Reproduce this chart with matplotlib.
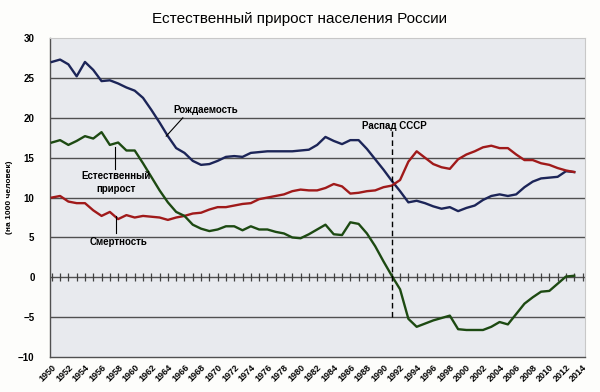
import numpy as np
import matplotlib.pyplot as plt

years = list(range(1950, 2014))
birth = [27.0, 27.3, 26.7, 25.2, 27.0, 26.0, 24.6, 24.7, 24.3, 23.8,
         23.4, 22.5, 21.0, 19.4, 17.7, 16.2, 15.6, 14.6, 14.1, 14.2,
         14.6, 15.1, 15.2, 15.1, 15.6, 15.7, 15.8, 15.8, 15.8, 15.8,
         15.9, 16.0, 16.6, 17.6, 17.1, 16.7, 17.2, 17.2, 16.1, 14.8,
         13.5, 12.1, 10.8, 9.4, 9.6, 9.3, 8.9, 8.6, 8.8, 8.3,
         8.7, 9.0, 9.7, 10.2, 10.4, 10.2, 10.4, 11.3, 12.0, 12.4,
         12.5, 12.6, 13.3, 13.2]
death = [10.0, 10.2, 9.5, 9.3, 9.3, 8.4, 7.7, 8.2, 7.3, 7.8,
         7.5, 7.7, 7.6, 7.5, 7.2, 7.5, 7.7, 8.0, 8.1, 8.5,
         8.8, 8.8, 9.0, 9.2, 9.3, 9.8, 10.0, 10.2, 10.4, 10.8,
         11.0, 10.9, 10.9, 11.2, 11.7, 11.4, 10.5, 10.6, 10.8, 10.9,
         11.3, 11.5, 12.2, 14.5, 15.8, 15.0, 14.2, 13.8, 13.6, 14.8,
         15.4, 15.8, 16.3, 16.5, 16.2, 16.2, 15.4, 14.7, 14.7, 14.3,
         14.1, 13.7, 13.4, 13.2]
natural = [16.9, 17.2, 16.6, 17.1, 17.7, 17.4, 18.2, 16.6, 16.9, 15.9,
           15.9, 14.3, 12.6, 10.9, 9.4, 8.2, 7.7, 6.6, 6.1, 5.8,
           6.0, 6.4, 6.4, 5.9, 6.4, 6.0, 6.0, 5.7, 5.5, 5.0,
           4.9, 5.4, 6.0, 6.6, 5.4, 5.3, 6.9, 6.7, 5.5, 3.9,
           2.0, 0.2, -1.5, -5.2, -6.2, -5.8, -5.4, -5.1, -4.8, -6.5,
           -6.6, -6.6, -6.6, -6.2, -5.6, -5.9, -4.6, -3.3, -2.5, -1.8,
           -1.7, -0.8, 0.1, 0.2]
tick_years = list(range(1950, 2015, 2))
axis_years = list(range(1950, 2015))
collapse_year = 1991

plt.rcParams['font.family'] = ['Liberation Sans', 'DejaVu Sans']

fig = plt.figure(figsize=(6, 3.92), dpi=100, facecolor='#fdfdfb')
ax = fig.add_axes([0.083, 0.089, 0.892, 0.814])
ax.set_facecolor('#e8eaee')

# grid
for y in [25, 20, 15, 10, 5, -5]:
    ax.axhline(y, color='#505050', lw=1.0, zorder=1)
ax.axhline(0, color='#505050', lw=1.0, zorder=1)
ax.plot(axis_years, [0] * len(axis_years), ls='none', marker='|',
        ms=6, mew=0.9, color='#404040', zorder=1)

ax.plot(years, birth, color='#1c2558', lw=1.7, zorder=3)
ax.plot(years, death, color='#a01a1a', lw=1.7, zorder=3)
ax.plot(years, natural, color='#1d4a12', lw=1.7, zorder=3)

ax.vlines(collapse_year, -5, 18.3, colors='black', linestyles=(0, (4, 2.5)),
          lw=1.0, zorder=4)

fs = 7
ax.text(1991.3, 19.0, 'Распад СССР', ha='center', va='center',
        fontsize=fs, weight='bold')
ax.plot([1963.8, 1965.8], [17.7, 20.0], color='black', lw=0.8, zorder=4)
ax.text(1968.5, 21.0, 'Рождаемость', ha='center', va='center',
        fontsize=fs, weight='bold')
ax.plot([1957.6, 1957.6], [16.3, 13.6], color='black', lw=0.8, zorder=4)
ax.text(1957.8, 11.9, 'Естественный\nприрост', ha='center', va='center',
        fontsize=fs, weight='bold', linespacing=1.3)
ax.plot([1957.8, 1957.8], [7.7, 5.5], color='black', lw=0.8, zorder=4)
ax.text(1958.0, 4.4, 'Смертность', ha='center', va='center',
        fontsize=fs, weight='bold')

ax.set_xlim(1949.76, 2014.3)
ax.set_ylim(-10, 30)
ax.set_yticks(range(-10, 31, 5))
ax.set_xticks(tick_years)
ax.set_xticklabels([str(y) for y in tick_years], rotation=45, ha='right',
                   rotation_mode='anchor', fontsize=6.5, weight='bold')
ax.tick_params(axis='y', length=0, pad=11, labelsize=7)
ax.tick_params(axis='x', length=0, pad=4)
for lbl in ax.get_yticklabels():
    lbl.set_fontweight('bold')

for side in ['left', 'bottom']:
    ax.spines[side].set_color('#505050')
    ax.spines[side].set_linewidth(1.0)
for side in ['top', 'right']:
    ax.spines[side].set_color('#c8c8c8')
    ax.spines[side].set_linewidth(0.8)

ax.set_ylabel('(на 1000 человек)', fontsize=6, weight='bold')
ax.yaxis.set_label_coords(-0.068, 0.5)
fig.suptitle('Естественный прирост населения России', fontsize=11,
             y=0.97, x=0.5)

fig.savefig('out.png', dpi=100, facecolor=fig.get_facecolor())
